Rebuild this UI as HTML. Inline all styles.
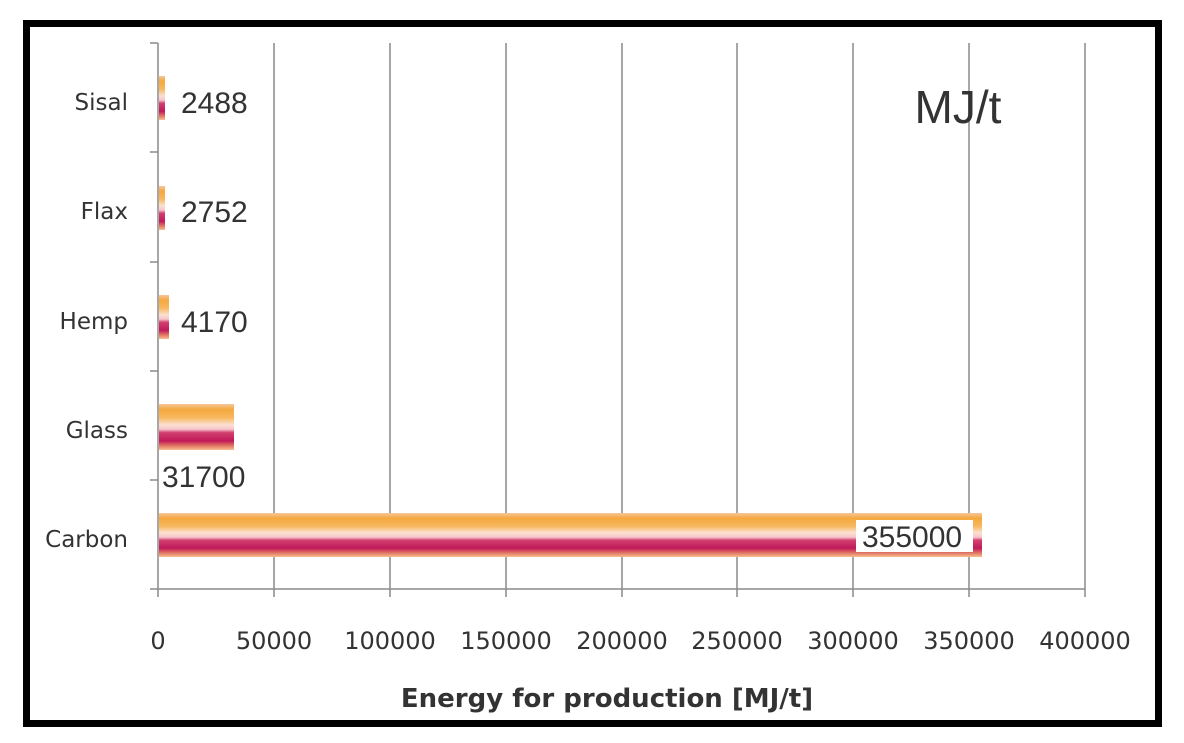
<!DOCTYPE html>
<html><head><style>
html,body{margin:0;padding:0;background:#fff;}
svg{display:block;}
text{font-family:"DejaVu Sans","Liberation Sans",sans-serif;fill:#333;}
</style></head><body>
<svg width="1184" height="743" viewBox="0 0 1184 743" xmlns="http://www.w3.org/2000/svg">
<defs>
<linearGradient id="g" x1="0" y1="0" x2="0" y2="1">
<stop offset="0" stop-color="#f6c79a"/>
<stop offset="0.12" stop-color="#f5a83e"/>
<stop offset="0.3" stop-color="#f7b860"/>
<stop offset="0.45" stop-color="#fbe0d0"/>
<stop offset="0.55" stop-color="#f6c4cc"/>
<stop offset="0.62" stop-color="#d2406e"/>
<stop offset="0.8" stop-color="#c01a5a"/>
<stop offset="0.9" stop-color="#e07060"/>
<stop offset="1" stop-color="#f8c090"/>
</linearGradient>
</defs>
<rect x="26.5" y="23.5" width="1132" height="700" fill="#fff" stroke="#000" stroke-width="7"/>
<g stroke="#8a8a8a" stroke-width="1.5">
<line x1="274" y1="43" x2="274" y2="597"/>
<line x1="390" y1="43" x2="390" y2="597"/>
<line x1="506" y1="43" x2="506" y2="597"/>
<line x1="622" y1="43" x2="622" y2="597"/>
<line x1="737" y1="43" x2="737" y2="597"/>
<line x1="853" y1="43" x2="853" y2="597"/>
<line x1="969" y1="43" x2="969" y2="597"/>
<line x1="1085" y1="43" x2="1085" y2="597"/>
<line x1="158" y1="43" x2="158" y2="597"/>
<line x1="150" y1="589" x2="1085" y2="589"/>
<line x1="150" y1="43" x2="158" y2="43"/>
<line x1="150" y1="152" x2="158" y2="152"/>
<line x1="150" y1="262" x2="158" y2="262"/>
<line x1="150" y1="371" x2="158" y2="371"/>
<line x1="150" y1="480" x2="158" y2="480"/>
</g>
<rect x="159" y="76" width="6" height="44" fill="url(#g)"/>
<rect x="159" y="186" width="6" height="44" fill="url(#g)"/>
<rect x="159" y="295" width="10" height="44" fill="url(#g)"/>
<rect x="159" y="404" width="75" height="46" fill="url(#g)"/>
<rect x="159" y="513" width="823" height="44" fill="url(#g)"/>
<rect x="856" y="520" width="117" height="32" fill="#fff"/>
<g font-size="30" style="font-family:'Liberation Sans',sans-serif">
<text x="181" y="113" style="font-family:'Liberation Sans',sans-serif">2488</text>
<text x="181" y="222" style="font-family:'Liberation Sans',sans-serif">2752</text>
<text x="181" y="332" style="font-family:'Liberation Sans',sans-serif">4170</text>
<text x="162" y="487" style="font-family:'Liberation Sans',sans-serif">31700</text>
<text x="862" y="547" style="font-family:'Liberation Sans',sans-serif">355000</text>
</g>
<g font-size="23" text-anchor="end">
<text x="128" y="110">Sisal</text>
<text x="128" y="219">Flax</text>
<text x="128" y="329">Hemp</text>
<text x="128" y="438">Glass</text>
<text x="128" y="547">Carbon</text>
</g>
<g font-size="24" text-anchor="middle">
<text x="158" y="649">0</text>
<text x="274" y="649">50000</text>
<text x="390" y="649">100000</text>
<text x="506" y="649">150000</text>
<text x="622" y="649">200000</text>
<text x="737" y="649">250000</text>
<text x="853" y="649">300000</text>
<text x="969" y="649">350000</text>
<text x="1085" y="649">400000</text>
</g>
<text x="607" y="707" font-size="26" font-weight="bold" text-anchor="middle" fill="#222">Energy for production [MJ/t]</text>
<text x="958" y="123" font-size="46" text-anchor="middle" style="font-family:'Liberation Sans',sans-serif" fill="#111">MJ/t</text>
</svg>
</body></html>
